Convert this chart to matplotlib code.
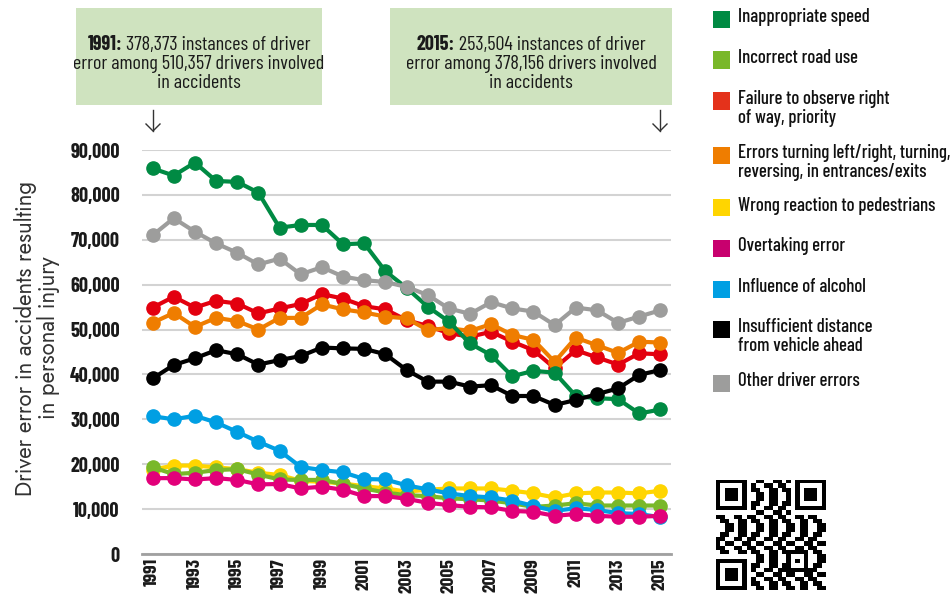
import numpy as np
import matplotlib.pyplot as plt
from matplotlib import font_manager as fm
from matplotlib.patches import Rectangle

have = {f.name for f in fm.fontManager.ttflist}


def pick(names):
    for n in names:
        if n in have:
            return n
    return 'DejaVu Sans'


COND = pick(['Barlow Condensed', 'Roboto Condensed', 'Archivo Narrow', 'PT Sans Narrow',
             'Fira Sans Condensed', 'Liberation Sans Narrow'])
BOOK = pick(['Jost', 'Futura', 'Lato', 'Open Sans'])

plt.rcParams['font.family'] = [COND, 'DejaVu Sans']

years = list(range(1991, 2016))

speed = [85900, 84300, 87200, 83100, 82900, 80500, 72700, 73300, 73300, 69000, 69200, 63000, 59300,
         55100, 51800, 46900, 44300, 39600, 40800, 40400, 35200, 34700, 34500, 31300, 32200]
road_use = [19300, 17800, 18100, 18700, 18900, 17700, 16600, 16500, 16500, 15600, 14600, 13700, 13100,
            12900, 12400, 12200, 11900, 11300, 10500, 10800, 11300, 10800, 10800, 10800, 10800]
right_of_way = [54900, 57300, 54900, 56400, 55800, 53600, 54700, 55700, 57900, 56900, 55200, 54500, 52100,
                50800, 49200, 48400, 49500, 47300, 45400, 41400, 45400, 43800, 42200, 44700, 44500]
turning = [51500, 53700, 50600, 52600, 51900, 50000, 52600, 52600, 55600, 54500, 53800, 52900, 52500,
           49900, 50300, 49700, 51200, 48800, 47700, 42800, 48200, 46500, 44800, 47300, 47100]
pedestrians = [18800, 19700, 19700, 19300, 18900, 18100, 17600, 16300, 16100, 15700, 15100, 14600, 13900,
               14300, 14600, 14600, 14600, 14100, 13500, 12600, 13500, 13700, 13700, 13500, 14100]
overtaking = [16900, 16900, 16600, 16900, 16500, 15500, 15600, 14600, 15000, 14300, 12900, 12900, 12300,
              11400, 10900, 10500, 10400, 9600, 9400, 8500, 8900, 8500, 8300, 8300, 8500]
alcohol = [30700, 30000, 30800, 29300, 27200, 25000, 23000, 19400, 18700, 18200, 16700, 16600, 15300,
           14400, 13500, 12900, 12600, 11900, 10700, 9600, 10200, 9800, 9100, 8900, 8200]
distance = [39100, 42100, 43600, 45400, 44500, 42200, 43200, 44100, 46000, 45800, 45700, 44500, 41000,
            38400, 38400, 37300, 37600, 35200, 35200, 33200, 34300, 35600, 36900, 39900, 41000]
other = [71000, 74800, 71800, 69200, 67100, 64500, 65800, 62300, 63900, 61800, 61000, 60600, 59500,
         57700, 54700, 53500, 56100, 54700, 54000, 51000, 54900, 54300, 51500, 52900, 54300]

labels = ['Inappropriate speed', 'Incorrect road use', 'Failure to observe right\nof way, priority',
          'Errors turning left/right, turning,\nreversing, in entrances/exits', 'Wrong reaction to pedestrians',
          'Overtaking error', 'Influence of alcohol', 'Insufficient distance\nfrom vehicle ahead',
          'Other driver errors']
series = [speed, road_use, right_of_way, turning, pedestrians, overtaking, alcohol, distance, other]
colors = ['#008A43', '#79B829', '#E3000F', '#EF7D00', '#FFD500', '#E2007A', '#009FE3', '#000000', '#9D9D9C']
legend_colors = ['#008A43', '#79B829', '#E4321B', '#EF7D00', '#FFD500', '#C8006E', '#009FE3', '#000000', '#9D9D9C']
zorders = [8, 3, 6, 7, 2, 5, 4, 9, 10]

# annotation texts
notes = [('1991:', '378,373 instances of driver', '510,357'),
         ('2015:', '253,504 instances of driver', '378,156')]

W, H = 952, 594
fig = plt.figure(figsize=(W / 100, H / 100), dpi=100)


def fx(x):
    return x / W


def fy(y):
    return 1 - y / H


ax = fig.add_axes([fx(142), fy(554), fx(671) - fx(142), fy(150) - fy(554)])

for vals, c, z in zip(series, colors, zorders):
    ax.plot(years, vals, color=c, lw=3, marker='o', ms=9.5, zorder=z, clip_on=False)

ax.set_xlim(1990.5, 2015.5)
ax.set_ylim(0, 90000)
ax.set_yticks(range(0, 90001, 10000))
ax.set_yticklabels([f'{v:,}' for v in range(0, 90001, 10000)], fontsize=14.5, fontweight='bold', color='#1a1a1a')
ax.set_xticks(years[::2])
ax.set_xticklabels([str(y) for y in years[::2]], rotation=90, fontsize=14, fontweight='bold', color='#1a1a1a')
ax.tick_params(length=0)
ax.tick_params(axis='y', pad=16)
ax.tick_params(axis='x', pad=3)
ax.grid(axis='y', color='#D3D3D3', lw=1.5, zorder=0)
ax.set_axisbelow(True)
for s in ['top', 'right', 'left']:
    ax.spines[s].set_visible(False)
ax.spines['bottom'].set_color('#A0A0A0')
ax.spines['bottom'].set_linewidth(2)

fig.text(fx(37), fy(338), 'Driver error in accidents resulting\nin personal injury', rotation=90,
         ha='center', va='center', multialignment='center', fontsize=16, color='#333333',
         family=[BOOK, 'DejaVu Sans'], linespacing=1.0)

# annotation boxes
renderer = fig.canvas.get_renderer()
box_x = [(76, 322, 153), (390, 672, 660)]
for (x0, x1, ax_x), (year_txt, rest, n) in zip(box_x, notes):
    fig.patches.append(Rectangle((fx(x0), fy(105)), fx(x1) - fx(x0), fy(8) - fy(105),
                                 transform=fig.transFigure, facecolor='#CFE3BF', edgecolor='none'))
    cx = (x0 + x1) / 2
    t1 = fig.text(0, fy(45), year_txt, ha='left', va='center', fontsize=14.5, fontweight='bold', color='#1a1a1a')
    t2 = fig.text(0, fy(45), rest, ha='left', va='center', fontsize=14.5, color='#1a1a1a')
    w1 = t1.get_window_extent(renderer).width
    w2 = t2.get_window_extent(renderer).width
    gap = 4
    left = cx - (w1 + gap + w2) / 2
    t1.set_x(fx(left))
    t2.set_x(fx(left + w1 + gap))
    fig.text(fx(cx), fy(64), f'error among {n} drivers involved', ha='center', va='center',
             fontsize=14.5, color='#1a1a1a')
    fig.text(fx(cx), fy(83), 'in accidents', ha='center', va='center', fontsize=14.5, color='#1a1a1a')
    fig.add_artist(plt.Line2D([fx(ax_x), fx(ax_x)], [fy(110), fy(131)], transform=fig.transFigure,
                              color='#333333', lw=1))
    fig.add_artist(plt.Line2D([fx(ax_x - 7), fx(ax_x), fx(ax_x + 7)], [fy(124), fy(131), fy(124)],
                              transform=fig.transFigure, color='#333333', lw=1))

# legend
leg_y = [19.5, 60, 101, 155, 208, 248, 289, 329, 383]
for lab, c, yc in zip(labels, legend_colors, leg_y):
    fig.patches.append(Rectangle((fx(713), fy(yc + 8.5)), fx(17), fy(0) - fy(17),
                                 transform=fig.transFigure, facecolor=c, edgecolor='none'))
    fig.text(fx(738), fy(yc - 11), lab, ha='left', va='top', fontsize=13.5, color='#111111',
             fontweight='medium', linespacing=1.1)

# QR code style block
n = 25
qr = np.zeros((n, n))
for i in range(n):
    for j in range(n):
        qr[i, j] = ((i * i * 3 + j * 5 + i * j * 7) % 7) < 4
for (r, c) in [(0, 0), (0, n - 7), (n - 7, 0)]:
    qr[max(r - 1, 0):r + 8, max(c - 1, 0):c + 8] = 0
    qr[r:r + 7, c:c + 7] = 1
    qr[r + 1:r + 6, c + 1:c + 6] = 0
    qr[r + 2:r + 5, c + 2:c + 5] = 1
qr[16:21, 16:21] = 1
qr[17:20, 17:20] = 0
qr[18, 18] = 1
qax = fig.add_axes([fx(713), fy(590), fx(828) - fx(713), fy(480) - fy(590)])
qax.imshow(qr, cmap='Greys', interpolation='nearest')
qax.axis('off')

fig.savefig('out.png', dpi=100)
